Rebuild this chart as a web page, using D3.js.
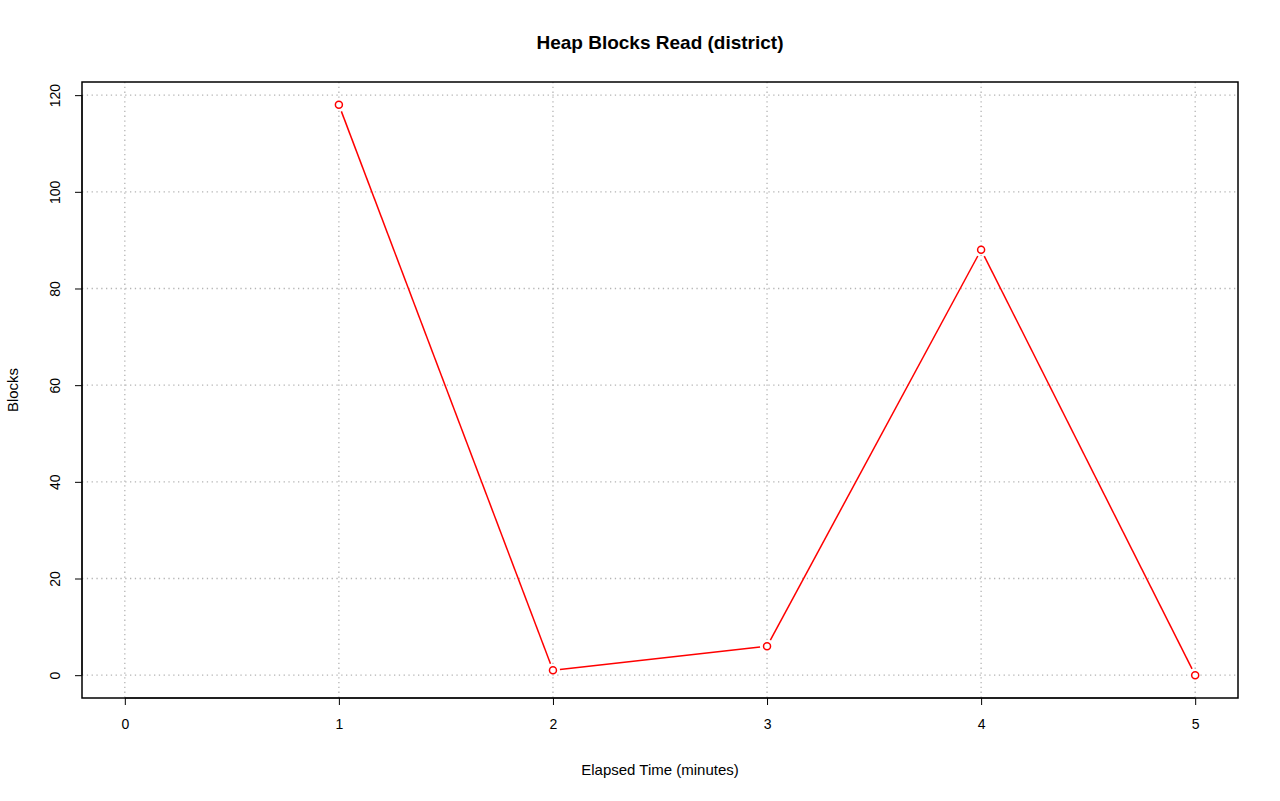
<!DOCTYPE html>
<html><head><meta charset="utf-8">
<script src="https://cdn.jsdelivr.net/npm/d3@7"></script>
<style>body{margin:0;background:#fff}svg{font-family:"Liberation Sans",Arial,sans-serif}</style>
</head><body>
<svg id="c" width="1280" height="801"></svg>
<script>
// data
const minutes = [1, 2, 3, 4, 5]
const blocks = [118, 1, 6, 88, 0]
const xTicks = [0, 1, 2, 3, 4, 5]
const yTicks = [0, 20, 40, 60, 80, 100, 120]

const box = { left: 82, right: 1238, top: 82, bottom: 698 }
const svg = d3.select("#c")

// R-style 4% padding
const x = d3.scaleLinear().domain([-0.2, 5.2]).range([box.left, box.right])
const y = d3.scaleLinear().domain([-4.72, 122.72]).range([box.bottom, box.top])

// grid
svg.append("g").selectAll("line").data(xTicks).join("line")
  .attr("x1", d => x(d)).attr("x2", d => x(d)).attr("y1", box.top).attr("y2", box.bottom)
  .attr("stroke", "#b4b4b4").attr("stroke-width", 1.3).attr("stroke-dasharray", "1.3,3.5")
svg.append("g").selectAll("line").data(yTicks).join("line")
  .attr("y1", d => y(d)).attr("y2", d => y(d)).attr("x1", box.left).attr("x2", box.right)
  .attr("stroke", "#b4b4b4").attr("stroke-width", 1.3).attr("stroke-dasharray", "1.3,3.5")

// axes
const xAxis = svg.append("g").attr("transform", `translate(0,${box.bottom})`)
  .call(d3.axisBottom(x).tickValues(xTicks).tickFormat(d3.format("d")).tickSize(7).tickPadding(14))
const yAxis = svg.append("g").attr("transform", `translate(${box.left},0)`)
  .call(d3.axisLeft(y).tickValues(yTicks).tickFormat(d3.format("d")).tickSize(7).tickPadding(14))
;[xAxis, yAxis].forEach(a => {
  a.select(".domain").remove()
  a.selectAll("text").attr("font-size", 14).attr("fill", "#000").attr("font-family", "Liberation Sans, Arial")
})
xAxis.append("line").attr("x1", x(0)).attr("x2", x(5)).attr("stroke", "#000")
yAxis.append("line").attr("y1", y(0)).attr("y2", y(120)).attr("stroke", "#000")
yAxis.selectAll(".tick text")
  .attr("text-anchor", "middle").attr("dy", 0)
  .attr("transform", "translate(-27,0) rotate(-90)")
  .attr("x", 0).attr("y", 5)

svg.append("rect").attr("x", box.left).attr("y", box.top)
  .attr("width", box.right - box.left).attr("height", box.bottom - box.top)
  .attr("fill", "none").attr("stroke", "#000").attr("stroke-width", 1.5)

// line with gaps (type "b")
const pts = minutes.map((m, i) => [x(m), y(blocks[i])])
const gap = 7
const segs = d3.pairs(pts).map(([a, b]) => {
  const dx = b[0] - a[0], dy = b[1] - a[1], L = Math.hypot(dx, dy)
  return [a[0] + dx / L * gap, a[1] + dy / L * gap, b[0] - dx / L * gap, b[1] - dy / L * gap]
})
svg.append("g").selectAll("line").data(segs).join("line")
  .attr("x1", d => d[0]).attr("y1", d => d[1]).attr("x2", d => d[2]).attr("y2", d => d[3])
  .attr("stroke", "red").attr("stroke-width", 1.5)
svg.append("g").selectAll("circle").data(pts).join("circle")
  .attr("cx", d => d[0]).attr("cy", d => d[1]).attr("r", 3.5)
  .attr("fill", "#fff").attr("stroke", "red").attr("stroke-width", 1.5)

// labels
svg.append("text").attr("x", 660).attr("y", 49).attr("text-anchor", "middle")
  .attr("font-weight", "bold").attr("font-size", 19).text("Heap Blocks Read (district)")
svg.append("text").attr("x", 660).attr("y", 775).attr("text-anchor", "middle")
  .attr("font-size", 15).text("Elapsed Time (minutes)")
svg.append("text").attr("transform", `translate(18,${(box.top + box.bottom) / 2}) rotate(-90)`)
  .attr("text-anchor", "middle").attr("font-size", 15).text("Blocks")
</script>
</body></html>
